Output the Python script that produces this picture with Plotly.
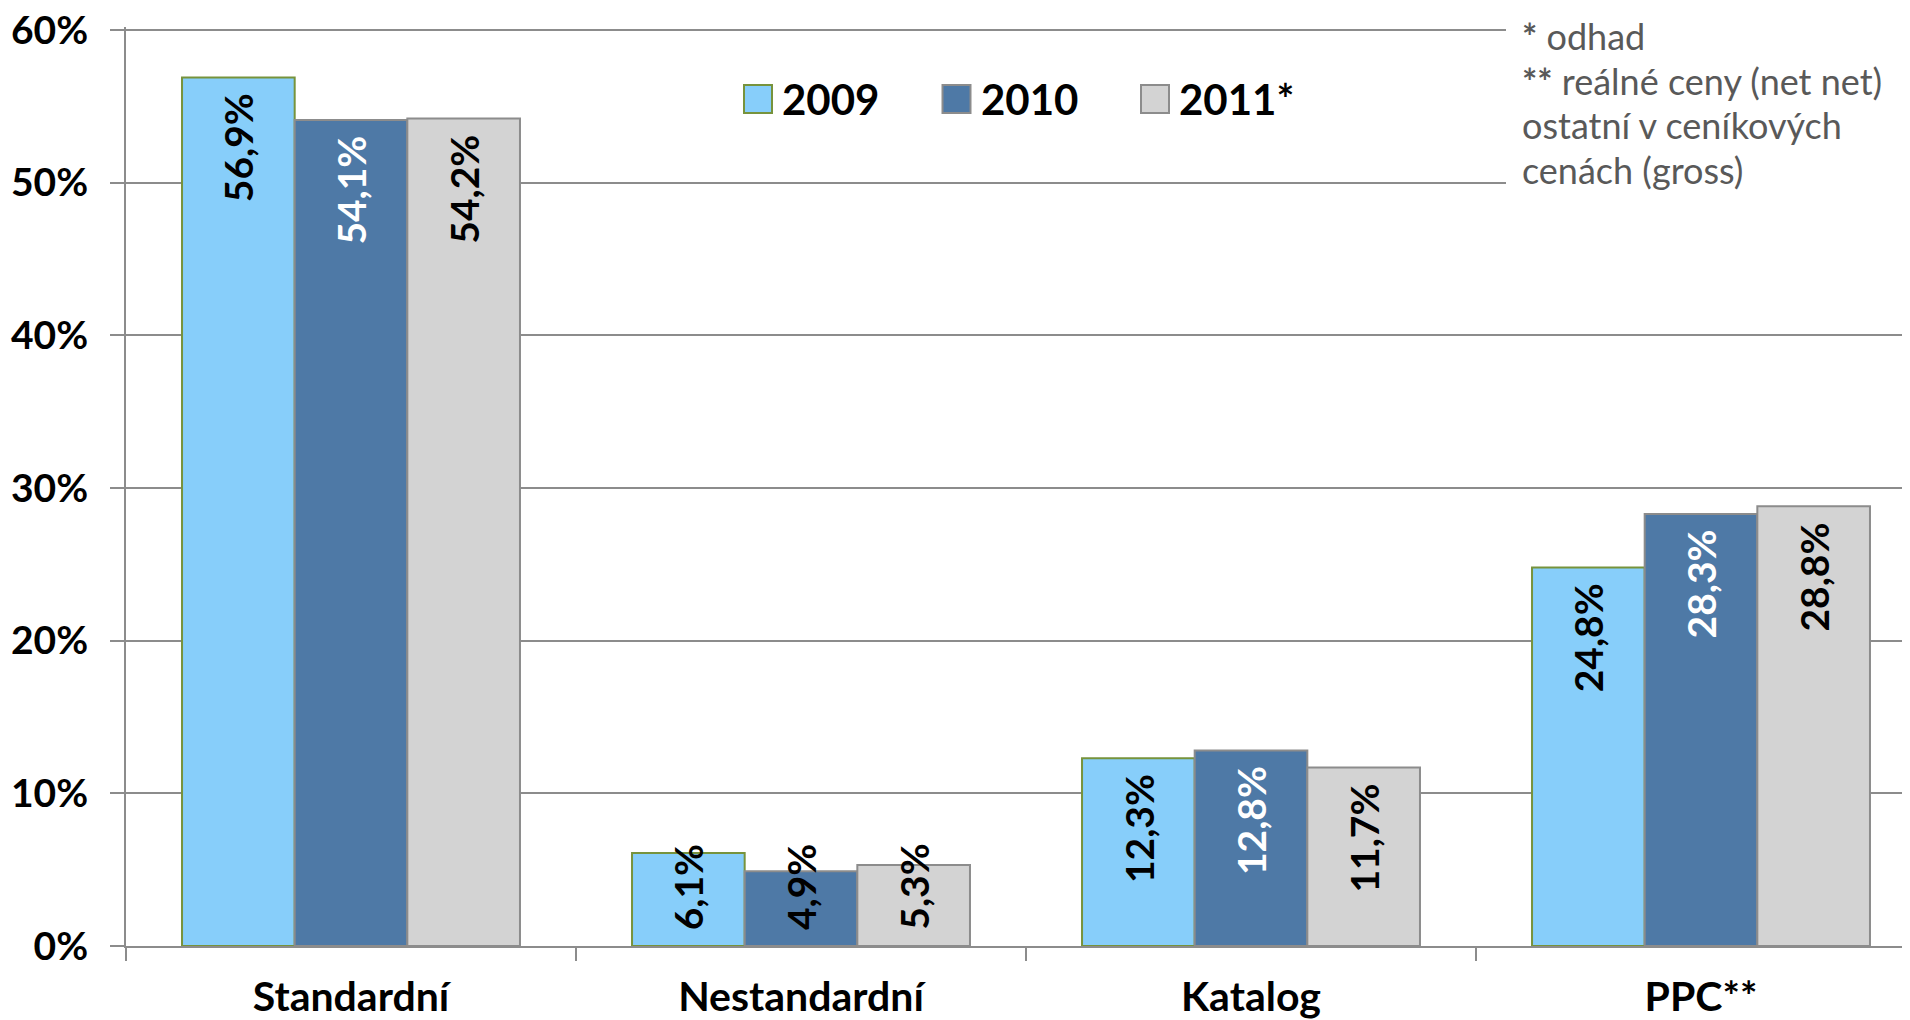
import plotly.graph_objects as go

# data
categories = ["Standardní", "Nestandardní", "Katalog", "PPC**"]
years = ["2009", "2010", "2011*"]
values_2009 = [56.9, 6.1, 12.3, 24.8]
values_2010 = [54.1, 4.9, 12.8, 28.3]
values_2011 = [54.2, 5.3, 11.7, 28.8]
y_ticks = [0, 10, 20, 30, 40, 50, 60]
note_lines = ["<b>*</b> odhad", "<b>**</b> reálné ceny (net net)",
              "ostatní v ceníkových", "cenách (gross)"]

series = [values_2009, values_2010, values_2011]
fills = ["#87CEFA", "#4E79A6", "#D3D3D3"]
edges = ["#77933C", "#8C8C8C", "#8C8C8C"]
label_colors = ["black", "white", "black"]

FONT = "Lato"
GRID = "#8C8C8C"

# the page body has an 8px margin, so the figure is made that much smaller
OFF = 8
W, H = 1910 - OFF, 1020 - OFF
# positions below are page pixels
AXIS_X, ZERO_Y, TOP_Y = 126, 946, 30
L = AXIS_X - OFF
B = H - (ZERO_Y - OFF)
Y_MAX = 60.2          # a little headroom so the 60 % gridline is drawn
px_per_unit = (ZERO_Y - TOP_Y) / 60
T = round(TOP_Y - OFF - (Y_MAX - 60) * px_per_unit)
plot_w = W - L
plot_h = H - T - B
px_per_cat = 450
bargap = 0.249
bar_w = (1 - bargap) / 3


def px_x(p):
    return (p - OFF - L) / plot_w


def px_y(p):
    return (H - B - (p - OFF)) / plot_h


fig = go.Figure()

for name, vals, fill, edge in zip(years, series, fills, edges):
    fig.add_trace(go.Bar(
        x=categories, y=vals, name=name,
        marker=dict(color=fill, line=dict(color=edge, width=2)),
        showlegend=False, hoverinfo="skip",
    ))

# value labels, rotated, at the top end of each bar
for i, (vals, col) in enumerate(zip(series, label_colors)):
    for c, v in enumerate(vals):
        txt = f"{v:.1f}".replace(".", ",") + "%"
        big = v * px_per_unit > 130
        fig.add_annotation(
            x=c + (i - 1) * bar_w, y=v if big else 0,
            xref="x", yref="y", text=f"<b>{txt}</b>", showarrow=False,
            textangle=-90, yanchor="top" if big else "bottom",
            yshift=-14 if big else 14,
            font=dict(family=FONT, size=39, color=col if big else "black"),
        )

# legend drawn by hand so the swatches can be big
leg_x0, leg_step, leg_y0, leg_y1 = 744, 198.5, 85, 113
for i, (name, fill, edge) in enumerate(zip(years, fills, edges)):
    x0 = leg_x0 + i * leg_step
    fig.add_shape(type="rect", xref="paper", yref="paper",
                  x0=px_x(x0), x1=px_x(x0 + 28), y0=px_y(leg_y1), y1=px_y(leg_y0),
                  fillcolor=fill, line=dict(color=edge, width=2))
    fig.add_annotation(xref="paper", yref="paper", x=px_x(x0 + 36),
                       y=px_y((leg_y0 + leg_y1) / 2), xanchor="left", yanchor="middle",
                       text=f"<b>{name}</b>", showarrow=False,
                       font=dict(family=FONT, size=42, color="black"))

# note box in the upper right corner
fig.add_shape(type="rect", xref="paper", yref="paper", layer="above",
              x0=px_x(1506), x1=1.0, y0=px_y(215), y1=px_y(OFF),
              fillcolor="white", line=dict(width=0))
for k, line in enumerate(note_lines):
    fig.add_annotation(xref="paper", yref="paper", x=px_x(1520),
                       y=px_y(36 + k * 44.7), xanchor="left", yanchor="middle",
                       text=line, showarrow=False,
                       font=dict(family=FONT, size=36, color="#595959"))

fig.update_layout(
    width=W, height=H,
    margin=dict(l=L, r=0, t=T, b=B, autoexpand=False),
    barmode="group", bargap=bargap, bargroupgap=0,
    plot_bgcolor="white", paper_bgcolor="white",
    font=dict(family=FONT, color="black"),
    xaxis=dict(
        range=[-0.5, -0.5 + plot_w / px_per_cat], automargin=False,
        showgrid=False, showline=True, linecolor=GRID, linewidth=2,
        ticks="outside", tickson="boundaries", ticklen=13, tickwidth=2,
        tickcolor=GRID, ticklabelstandoff=14, ticklabeloverflow="allow",
        tickfont=dict(family=FONT, size=41, color="black", weight="bold"),
    ),
    yaxis=dict(
        range=[0, Y_MAX], automargin=False,
        tickvals=y_ticks, ticktext=[f"{v}%" for v in y_ticks],
        showgrid=True, gridcolor=GRID, gridwidth=2,
        showline=True, linecolor=GRID, linewidth=2, zeroline=False,
        ticks="outside", ticklen=14, tickwidth=2, tickcolor=GRID,
        ticklabelstandoff=14, ticklabeloverflow="allow",
        tickfont=dict(family=FONT, size=39, color="black", weight="bold"),
    ),
)

fig.write_html("out.html")
